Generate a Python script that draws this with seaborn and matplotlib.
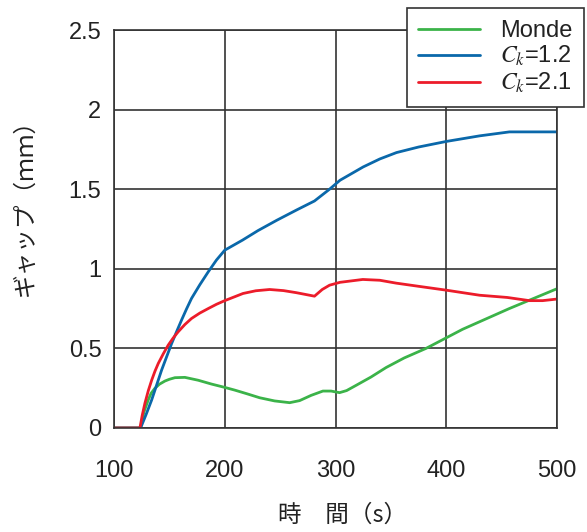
import numpy as np
import pandas as pd
import matplotlib
matplotlib.use("Agg")
import matplotlib.pyplot as plt
import seaborn as sns

# ---- data ----
monde_x = [100, 124, 127, 130.9, 133.5, 136.9, 141, 146, 150, 155, 164, 176, 188, 200, 209,
           220, 231.5, 245, 258.6, 267.6, 278, 288.6, 296, 303.6, 310, 318.6, 332, 345.7,
           362, 381.7, 414.7, 456.8, 500]
monde_y = [0, 0, 0.10, 0.176, 0.218, 0.249, 0.275, 0.295, 0.306, 0.316, 0.318, 0.30, 0.276,
           0.255, 0.238, 0.215, 0.19, 0.17, 0.159, 0.172, 0.205, 0.232, 0.232, 0.222, 0.235,
           0.268, 0.32, 0.38, 0.44, 0.50, 0.62, 0.75, 0.875]

ck12_x = [100, 124, 129, 134, 138.5, 143, 147.5, 152, 156.5, 161, 165.5, 170, 177.5, 185,
          192.5, 200, 216, 230, 247, 265, 281, 294.6, 304, 315, 325, 340, 355, 375, 400, 430,
          457, 500]
ck12_y = [0, 0, 0.085, 0.176, 0.27, 0.364, 0.447, 0.53, 0.605, 0.678, 0.748, 0.814, 0.90,
          0.98, 1.055, 1.117, 1.18, 1.24, 1.305, 1.37, 1.426, 1.50, 1.556, 1.60, 1.64, 1.69,
          1.73, 1.765, 1.80, 1.835, 1.86, 1.86]

ck21_x = [100, 123.4, 125.5, 127.9, 131, 134, 137, 140, 144.5, 148.9, 153.4, 157.9, 164,
          170, 177.5, 185, 192.5, 200, 216.5, 228, 240.5, 253, 264.6, 281, 288, 294.6, 304,
          324.6, 340, 354.7, 375, 399.7, 430, 455, 475, 487, 500]
ck21_y = [0, 0, 0.08, 0.155, 0.235, 0.30, 0.357, 0.406, 0.466, 0.52, 0.565, 0.604, 0.65,
          0.688, 0.722, 0.75, 0.777, 0.80, 0.845, 0.862, 0.87, 0.863, 0.85, 0.828, 0.87,
          0.897, 0.915, 0.933, 0.928, 0.91, 0.89, 0.866, 0.834, 0.82, 0.80, 0.80, 0.81]

series_names = ["Monde", r"$C_k$=1.2", r"$C_k$=2.1"]
series_colors = ["#3bb349", "#0a68aa", "#ec1c2a"]
x_ticks = [100, 200, 300, 400, 500]
y_ticks = [0, 0.5, 1, 1.5, 2, 2.5]
y_tick_labels = ["0", "0.5", "1", "1.5", "2", "2.5"]

df = pd.concat([
    pd.DataFrame({"t": monde_x, "gap": monde_y, "series": series_names[0]}),
    pd.DataFrame({"t": ck12_x, "gap": ck12_y, "series": series_names[1]}),
    pd.DataFrame({"t": ck21_x, "gap": ck21_y, "series": series_names[2]}),
], ignore_index=True)

sns.set_style("white")
plt.rcParams["font.family"] = ["Liberation Sans", "Noto Sans CJK JP", "DejaVu Sans"]
plt.rcParams["mathtext.fontset"] = "stix"

fig = plt.figure(figsize=(5.87, 5.32), dpi=100)
ax = fig.add_axes([0.1942, 0.1955, 0.949 - 0.1942, 0.9436 - 0.1955])

sns.lineplot(data=df, x="t", y="gap", hue="series", hue_order=series_names,
             palette=series_colors, estimator=None, sort=False, linewidth=2.0, ax=ax)

ax.set_xlim(100, 500)
ax.set_ylim(0, 2.5)
ax.set_xticks(x_ticks)
ax.set_yticks(y_ticks)
ax.set_yticklabels(y_tick_labels)
ax.grid(True, color="#333333", linewidth=1.2)
for s in ax.spines.values():
    s.set_color("#333333")
    s.set_linewidth(1.2)
ax.tick_params(axis="both", length=0, labelsize=17, colors="#222222")
ax.tick_params(axis="x", pad=23)
ax.tick_params(axis="y", pad=9)

cjk = ["Noto Sans CJK JP", "DejaVu Sans"]
ax.set_xlabel("時\u3000間（s）", fontsize=17, family=cjk, color="#222222")
ax.set_ylabel("ギャップ（ｍｍ）", fontsize=17, family=cjk, color="#222222")
ax.xaxis.label.set_va("center")
ax.yaxis.label.set_va("center")
ax.xaxis.set_label_coords(0.515, -0.219)
ax.yaxis.set_label_coords(-0.2, 0.57)

leg = ax.legend(loc="upper right", bbox_to_anchor=(0.995, 0.985), bbox_transform=fig.transFigure,
                borderaxespad=0, fancybox=False, framealpha=1, edgecolor="#333333",
                fontsize=17, handlelength=2.6, handletextpad=0.85, labelspacing=0.1,
                borderpad=0.5)
leg.get_frame().set_linewidth(1.2)
for txt in leg.get_texts():
    txt.set_color("#222222")

fig.savefig("out.png", dpi=100)
